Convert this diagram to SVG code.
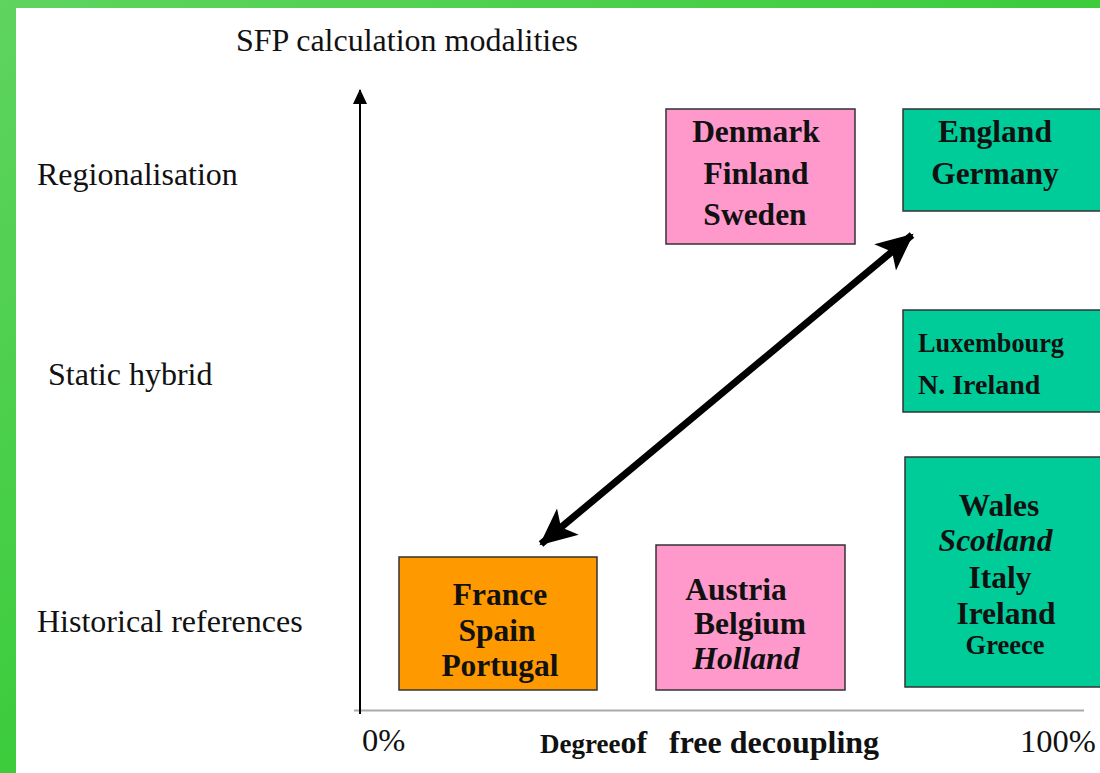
<svg xmlns="http://www.w3.org/2000/svg" width="1100" height="773" viewBox="0 0 1100 773">
<defs>
<linearGradient id="bg" x1="0" y1="0" x2="1" y2="1">
<stop offset="0" stop-color="#5fd45f"/>
<stop offset="0.5" stop-color="#3ccc3c"/>
<stop offset="1" stop-color="#55d055"/>
</linearGradient>
<marker id="axisHead" markerWidth="16" markerHeight="16" refX="14" refY="8" orient="auto" markerUnits="userSpaceOnUse" viewBox="0 0 16 16" overflow="visible">
<path d="M15,8 L0,1 L0,15 Z" fill="#000"/>
</marker>
<marker id="bigHead" markerWidth="40" markerHeight="40" refX="36" refY="20" orient="auto-start-reverse" markerUnits="userSpaceOnUse" viewBox="0 0 40 40" overflow="visible">
<path d="M38,20 L1,3 L10,20 L1,37 Z" fill="#000"/>
</marker>
</defs>
<style>
.lab{font-family:"Liberation Serif","Times New Roman",serif;font-size:32px;fill:#111}
.box{stroke:#333;stroke-width:1.5}
.pink{fill:#ff99cc}
.teal{fill:#00cc99}
.orange{fill:#ff9900}
.bt{font-family:"Liberation Serif","Times New Roman",serif;font-weight:bold;font-size:31.5px;fill:#111;text-anchor:middle}
.left{text-anchor:start}
.it{font-style:italic}
.xb{font-family:"Liberation Serif","Times New Roman",serif;font-weight:bold;fill:#111}
</style>
<rect x="0" y="0" width="1100" height="773" fill="url(#bg)"/>
<rect x="16" y="8" width="1084" height="765" fill="#fff"/>

<g id="axes">
<text class="lab" x="236" y="51">SFP calculation modalities</text>
<text class="lab" x="37" y="185">Regionalisation</text>
<text class="lab" x="48" y="385">Static hybrid</text>
<text class="lab" x="37" y="632">Historical references</text>
<text class="lab" x="362" y="751" style="font-size:32.5px">0%</text>
<text class="lab" x="1020" y="752" style="font-size:32.5px">100%</text>
<text class="xb" x="540" y="753"><tspan style="font-size:27px">Degree</tspan><tspan style="font-size:32px">of</tspan></text>
<text class="xb" x="669" y="753" style="font-size:32px">free decoupling</text>
<line x1="354" y1="710.5" x2="1084" y2="710.5" stroke="#aaa" stroke-width="2"/>
<line x1="360" y1="714" x2="360" y2="90" stroke="#000" stroke-width="2" marker-end="url(#axisHead)"/>
</g>

<g id="connectors">
<line x1="541" y1="544" x2="912" y2="235" stroke="#000" stroke-width="7" marker-start="url(#bigHead)" marker-end="url(#bigHead)"/>
</g>

<g id="node-nordic">
<rect class="box pink" x="666" y="109" width="189" height="135"/>
<text class="bt" x="756" y="142">Denmark</text>
<text class="bt" x="756" y="184">Finland</text>
<text class="bt" x="755" y="225">Sweden</text>
</g>

<g id="node-england">
<rect class="box teal" x="903" y="109" width="210" height="102"/>
<text class="bt" x="995" y="142">England</text>
<text class="bt" x="995" y="184">Germany</text>
</g>

<g id="node-luxembourg">
<rect class="box teal" x="903" y="310" width="210" height="102"/>
<text class="bt left" x="918" y="352" style="font-size:27px" textLength="146" lengthAdjust="spacingAndGlyphs">Luxembourg</text>
<text class="bt left" x="918" y="394" style="font-size:28px">N. Ireland</text>
</g>

<g id="node-wales">
<rect class="box teal" x="905" y="457" width="210" height="230"/>
<text class="bt" x="999" y="516">Wales</text>
<text class="bt it" x="995.5" y="551">Scotland</text>
<text class="bt" x="1000" y="588">Italy</text>
<text class="bt" x="1006" y="624">Ireland</text>
<text class="bt" x="1005" y="654" style="font-size:26.5px">Greece</text>
</g>

<g id="node-france">
<rect class="box orange" x="399" y="557" width="198" height="133"/>
<text class="bt" x="500" y="605">France</text>
<text class="bt" x="497" y="641">Spain</text>
<text class="bt" x="500" y="676">Portugal</text>
</g>

<g id="node-austria">
<rect class="box pink" x="656" y="545" width="189" height="145"/>
<text class="bt" x="736" y="600">Austria</text>
<text class="bt" x="750" y="634">Belgium</text>
<text class="bt it" x="746" y="669">Holland</text>
</g>
</svg>
